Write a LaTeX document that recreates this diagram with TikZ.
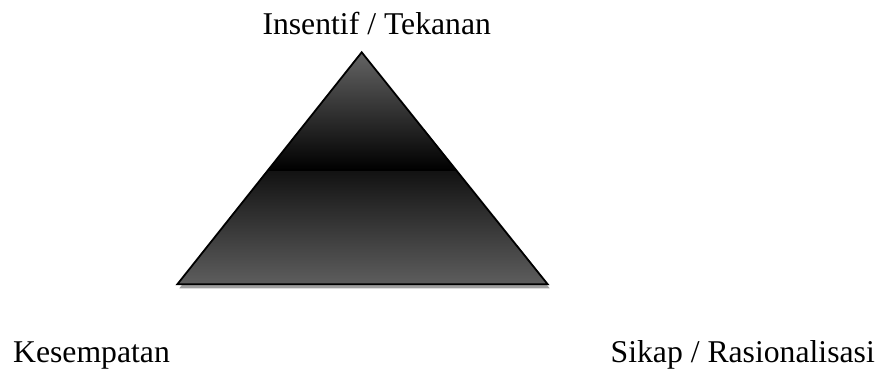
\documentclass[tikz,border=0pt]{standalone}
\usepackage{fontspec}
\setmainfont{Liberation Serif}
\begin{document}
\begin{tikzpicture}[x=1pt,y=-1pt,
  lbl/.style={inner sep=0pt,font=\fontsize{31.7}{38}\selectfont}]
\useasboundingbox (0,0) rectangle (883,369);
\coordinate (A) at (361.7,52.3);
\coordinate (B) at (177.3,284.3);
\coordinate (C) at (547.7,284.3);
% shadow
\fill[gray!75] ([shift={(2,4)}]A) -- ([shift={(2,4)}]B) -- ([shift={(2,4)}]C) -- cycle;
% gradient fill
\begin{scope}
\clip (A) -- (B) -- (C) -- cycle;
\shade[top color=black!60, bottom color=black] (170,50) rectangle (560,170);
\shade[top color=black!93, bottom color=black!62] (170,170) rectangle (560,290);
\draw[black, line width=1.2pt] (170,170) -- (560,170);
\end{scope}
\draw[line width=1.8pt, line join=miter] (A) -- (B) -- (C) -- cycle;
\node[lbl, anchor=base] (top) at (376.7,34.5) {Insentif / Tekanan};
\node[lbl, anchor=base west] (left) at (13,362) {Kesempatan};
\node[lbl, anchor=base east] (right) at (875,362) {Sikap / Rasionalisasi};
\end{tikzpicture}
\end{document}
